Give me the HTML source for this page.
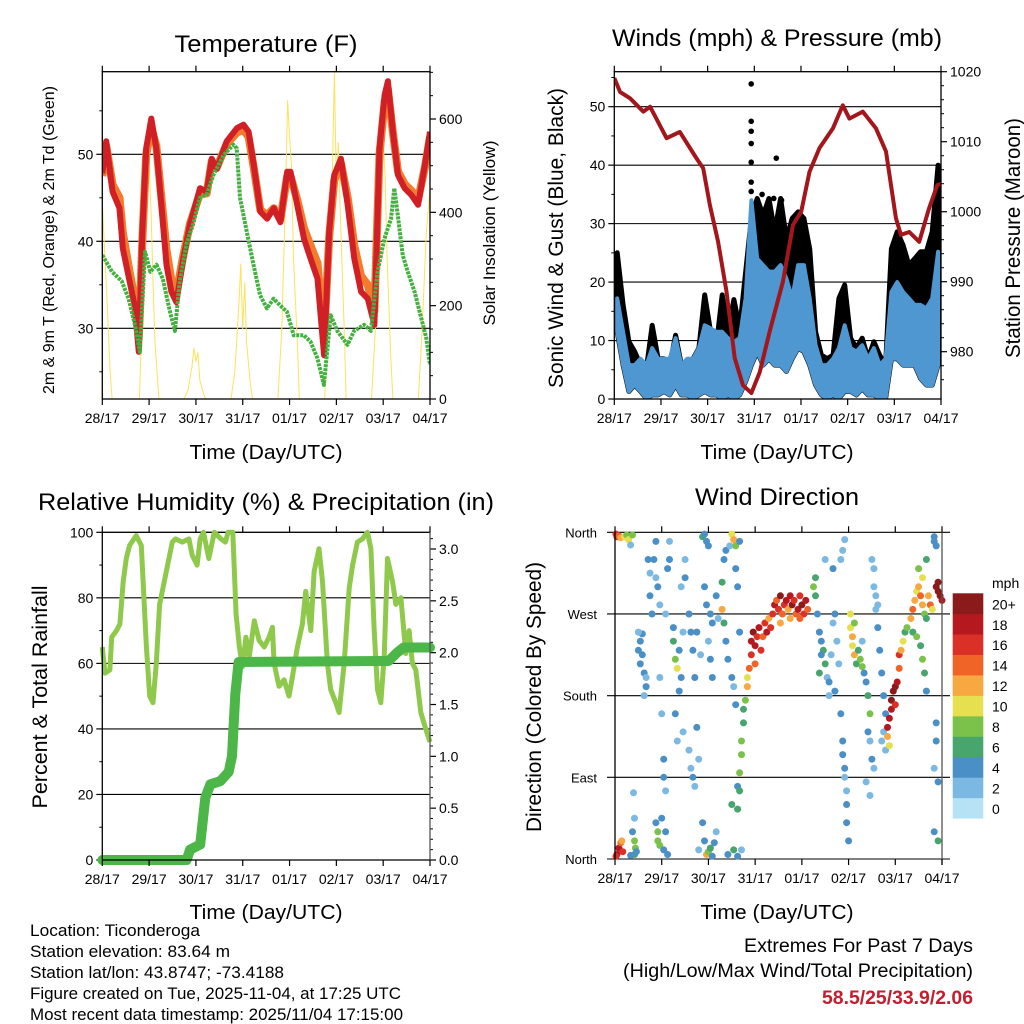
<!DOCTYPE html>
<html><head><meta charset="utf-8"><style>
html,body{margin:0;padding:0;background:#fff;}
svg{display:block;font-family:"Liberation Sans",sans-serif;}
</style></head><body>
<svg id="fig" width="1024" height="1024" viewBox="0 0 1024 1024">
<rect width="1024" height="1024" fill="#fff"/>
<g id="p1"></g>
<g id="p2"></g>
<g id="p3"></g>
<g id="p4"></g>
<g font-size="24" text-anchor="middle">
<text x="266" y="52" textLength="183" lengthAdjust="spacingAndGlyphs">Temperature (F)</text>
<text x="777" y="46" textLength="330" lengthAdjust="spacingAndGlyphs">Winds (mph) &amp; Pressure (mb)</text>
<text x="266" y="510" textLength="456" lengthAdjust="spacingAndGlyphs">Relative Humidity (%) &amp; Precipitation (in)</text>
<text x="777" y="505" textLength="164" lengthAdjust="spacingAndGlyphs">Wind Direction</text>
</g>
<g font-size="20" text-anchor="middle">
<text x="266" y="459" textLength="153" lengthAdjust="spacingAndGlyphs">Time (Day/UTC)</text>
<text x="777" y="459" textLength="153" lengthAdjust="spacingAndGlyphs">Time (Day/UTC)</text>
<text x="266" y="919" textLength="153" lengthAdjust="spacingAndGlyphs">Time (Day/UTC)</text>
<text x="777" y="919" textLength="153" lengthAdjust="spacingAndGlyphs">Time (Day/UTC)</text>
</g>
<text transform="translate(54,240) rotate(-90)" font-size="16" text-anchor="middle" textLength="308" lengthAdjust="spacingAndGlyphs">2m &amp; 9m T (Red, Orange) &amp; 2m Td (Green)</text>
<text transform="translate(495,233) rotate(-90)" font-size="17" text-anchor="middle" textLength="185" lengthAdjust="spacingAndGlyphs">Solar Insolation (Yellow)</text>
<text transform="translate(563,238) rotate(-90)" font-size="21" text-anchor="middle" textLength="300" lengthAdjust="spacingAndGlyphs">Sonic Wind &amp; Gust (Blue, Black)</text>
<text transform="translate(1020,238) rotate(-90)" font-size="21" text-anchor="middle" textLength="240" lengthAdjust="spacingAndGlyphs">Station Pressure (Maroon)</text>
<text transform="translate(47,697) rotate(-90)" font-size="21" text-anchor="middle" textLength="223" lengthAdjust="spacingAndGlyphs">Percent &amp; Total Rainfall</text>
<text transform="translate(541,697) rotate(-90)" font-size="21" text-anchor="middle" textLength="270" lengthAdjust="spacingAndGlyphs">Direction (Colored By Speed)</text>
<g font-size="17">
<text x="30" y="936" textLength="170" lengthAdjust="spacingAndGlyphs">Location: Ticonderoga</text>
<text x="30" y="957" textLength="200" lengthAdjust="spacingAndGlyphs">Station elevation: 83.64 m</text>
<text x="30" y="978" textLength="254" lengthAdjust="spacingAndGlyphs">Station lat/lon: 43.8747; -73.4188</text>
<text x="30" y="999" textLength="371" lengthAdjust="spacingAndGlyphs">Figure created on Tue, 2025-11-04, at 17:25 UTC</text>
<text x="30" y="1020" textLength="373" lengthAdjust="spacingAndGlyphs">Most recent data timestamp: 2025/11/04 17:15:00</text>
</g>
<g font-size="19" text-anchor="end">
<text x="973" y="952" textLength="229" lengthAdjust="spacingAndGlyphs">Extremes For Past 7 Days</text>
<text x="973" y="977" textLength="350" lengthAdjust="spacingAndGlyphs">(High/Low/Max Wind/Total Precipitation)</text>
<text x="973" y="1004" textLength="151" lengthAdjust="spacingAndGlyphs" fill="#c41e2e" font-weight="bold">58.5/25/33.9/2.06</text>
</g>
</svg>
<script>
const dayLabels=["28/17","29/17","30/17","31/17","01/17","02/17","03/17","04/17"];
const tempT=[0,2,5.3,8.8,10.5,14,16.5,18.7,20.5,22.5,25.1,27.7,30.3,32.9,35.4,38,41.5,44.9,50.1,53.5,56.1,58.7,63.8,69,72.4,75,77.6,81,84.5,87.9,91.3,94.8,96.5,99.9,103.4,106.8,110.3,113.7,116.3,118.9,122.3,125.8,129.2,132.7,136.1,139.5,142.1,144.7,146.4,149,151.6,155,158.5,161.9,165.4,168];
const temp2m=[47.8,51.5,45.7,43.8,39.2,35.4,32.7,27.3,41,50.7,54.1,50.7,44.2,37.3,34.2,33,38,41.9,46.1,45.7,49.5,48.3,51.5,53,53.4,52.6,48.8,43.4,42.6,43.8,42.2,48,48,44.2,40.3,38,35.7,26.9,41.1,47.6,49.5,44.2,38,34.2,33.4,30.4,50.7,56.8,58.4,52.6,47.6,46.1,45.3,44.2,48.8,52.6];
const temp9m=[47.5,51,46.5,45,41,36.5,33.5,29,40,50,53,51,45,39,35.5,34,38.3,42,45.5,45.5,49.2,48.5,51.2,52.5,52.8,52,48.5,43.6,43,43.8,42.5,47.5,47.5,44.8,41.5,39.5,37.5,29,40.5,47,49,45,39.5,36,35,32,50,56,57.5,52.5,48,46.6,45.8,44.8,48.5,52];
const tdT=[0,5,10,13.5,16.7,19.3,21.9,24.6,27.8,31,34.7,37.2,39.7,43.1,46.6,50,53.5,56.9,62.1,67.2,68.9,70.6,74.1,77.5,80.9,84.4,87.8,91.3,94.7,98.1,103.3,106.7,110.2,113.6,117.1,120.5,125.7,129.1,134.2,137.7,141.1,144.6,148,149.7,151.5,154,156.6,160.1,163.5,166.1,168];
const td2m=[38.4,36.5,35.4,33.4,30.4,27.3,38.8,36.5,37.3,35.7,31.9,29.7,35.4,39.7,42,45,45.4,47.6,49.9,51.1,50.7,45,41.1,37.3,33.8,32.3,33.4,32.6,31.9,29.2,29.2,28.5,26.6,23.5,31.5,29.7,28.1,29.7,30.4,29.7,36.5,40.3,42.6,46.1,43,38.4,36.5,34.2,31.2,28.9,25.8];
const solarT=[0,2,4,5,19,20,21,22,23,24,25,26,27,29,42,44,46,47,48,49,50,52,53,66,68,70,71,72,73,74,76,77,90,92,94,95,96,97,98,100,101,114,116,118,119,120,121,122,124,125,138,140,142,143,144,145,146,148,149,162,164,166,168];
const solar=[420,250,60,0,0,120,300,480,560,500,400,250,120,0,0,20,70,110,80,100,40,10,0,0,60,200,290,150,250,120,30,0,0,150,450,640,560,500,300,120,0,0,200,500,700,450,550,400,150,0,0,150,450,610,550,480,300,80,0,0,150,350,450];
const presT=[0,3,8.1,14.9,18.4,26.9,33.7,42.3,45.7,49.1,53.4,57.7,61.9,66.2,70.5,74.8,79.9,86.7,91.9,96.1,100.4,105.5,112.4,117.5,120.9,127.8,134.6,139.7,144.8,147.4,151.7,156.8,161.9,166.1,168];
const pressure=[1019.1,1017.1,1016.2,1014.3,1015,1010.5,1011.4,1007.6,1006.2,1001,995.7,988.6,979.1,975.2,974.1,977.1,982.9,990,998.1,1000,1005.7,1009.1,1011.9,1015.2,1013.3,1014.3,1011.9,1008.6,999.1,996.7,997.1,995.7,1000.5,1003.8,1004];
const windHi=[17.2,11.5,5.8,5.8,6.9,5.8,8.7,6.9,6.9,6.9,10.4,5.8,6.9,6.9,8.7,12.6,12.1,11.5,11.5,10.4,9.8,10.4,17.2,34,24,22.9,21.8,21.8,22.9,20.6,17.2,22.9,22.9,17.2,9.2,5.8,5.8,6.9,8.7,12.6,8.7,8.1,9.2,6.9,8.7,5.8,6.9,18.3,20,18.3,17.2,16.1,16.1,15.5,17.2,25.2];
const windLo=[11.5,5.8,1.3,2.4,1.3,0.1,0.7,0.7,1.3,0.7,2.4,0.7,0.7,0.1,0.7,1.3,0.7,0.7,0.1,0.7,0.1,0.7,3,5.8,8.1,5.8,6.9,5.8,5.8,4.7,6.9,8.7,8.1,5.8,2.4,0.7,0.1,0.7,0.1,1.3,1.3,0.7,1.8,0.7,0.7,0.1,0.1,6.9,6.9,5.8,5.8,5.8,3.5,2.4,2.4,5.8];
const gust=[25,16.1,9.8,8.1,5.8,5.2,12.6,6.9,6.9,5.8,10.9,5.8,5.8,6.9,8.7,17.8,11.5,9.2,17.8,11.5,17,12.1,21.6,31,34.3,31.4,34.3,28.6,34.3,27.4,30.9,32,30.9,25.7,11.5,7.5,6.9,7.5,17.2,19.5,10.4,8.7,10.4,6.9,9.8,7.5,5.8,25.7,28.6,26.3,22.9,24,25.2,25.2,28.6,40];
const gustOutT=[70.4,70.4,70.4,70.4,70.4,70.4,70.4,83.3,82,76,79,86,167,167];
const gustOut=[53.9,47.5,45.8,43.7,40.5,37.1,35.5,41.2,34.3,35,33,34,39,38];
const rhT=[0,1.4,3.9,4.8,7.3,9,10.7,12.3,14,17.4,20,20.9,22.6,24.3,26,27.7,29.4,31.8,33.5,35.9,37.6,41,44.4,46.1,48.6,50.2,51.9,54.6,57.4,60.8,63.1,64.5,66.9,68.6,70.3,71.9,73.6,75.3,77.9,80.4,83,85.5,87.2,88.1,90.6,93.2,95.7,97.5,100,102.6,104.3,106.9,108.6,111.1,112.9,115.4,117.1,119.7,121.4,124,126.6,128.3,130.8,133.4,135.9,137.7,139.4,141.1,142.8,144.5,146.2,148.8,150.5,153.1,155.6,157.3,159,160.7,163.3,165.8,168];
const rh=[65,57,58,68,70,72,85,92,96,99,96,85,65,50,48,60,78,85,90,97,98,97,98,93,90,98,100,92,100,98,97,100,100,75,65,59,68,62,73,67,65,68,71,60,53,55,50,56,65,72,82,70,88,95,85,60,52,48,45,60,83,90,97,98,100,95,70,52,48,62,92,85,78,80,63,70,60,58,45,40,36];
const precT=[0,43.2,45,50.2,52.8,55.4,60.5,64.8,66.5,68.2,69.9,146.8,151.1,154.5,168];
const precip=[0,0,0.1,0.15,0.6,0.73,0.76,0.85,1.0,1.6,1.91,1.92,2.0,2.05,2.05];
const dirPts=[[0.5,358,16],[1,355,15],[2,356,14],[3,354,12],[1,5,17],[2,12,18],[3,18,14],[4,8,16],[3.5,20,11],[0.5,3,16],
[5,355,9],[6,357,8],[7,352,10],[8,346,2],[9,357,8],[10,5,6],[10.5,12,8],[10,20,7],[9,30,4],[10,45,2],[9.5,73,2],[11,8,4],[8,4,4],
[12,230,4],[13,240,4],[14,225,3],[13,215,4],[15,205,4],[16,200,2],[14,248,3],[17,330,3],[18,315,2],[18,290,3],[19,270,4],[16,190,4],[15,180,2],[12,250,2],
[20,330,4],[21,350,4],[21,310,2],[22,300,3],[23,280,2],[23,200,2],[24,160,2],[25,110,4],[25,90,4],[26,75,2],[21,40,4],[22,30,7],[22,20,8],[23,15,7],[25,10,3],[26,30,4],[27,5,4],[24,45,4],[28,350,2],[28,330,3],[27,320,4],[26,270,2],
[30,240,6],[31,220,8],[32,210,10],[33,230,4],[34,200,4],[30,255,3],[35,250,2],[33,185,4],[31,160,4],[32,130,2],[35,140,2],[36,330,2],[36,310,3],[34,300,2],
[38,270,4],[39,250,3],[40,230,4],[41,200,4],[38,120,2],[39,100,2],[40,90,3],[41,80,2],[42,145,3],[43,110,2],[42,250,4],[44,225,2],[43,10,2],
[45,355,6],[46,358,4],[47,350,4],[48,345,3],[46,300,4],[47,280,4],[49,270,3],[50,260,4],[48,240,2],[49,220,4],[50,200,3],[52,290,4],[53,265,2],[46,20,4],[47,5,12],[48,8,8],[49,12,6],[50,3,4],[51,18,4],[52,30,2],[45,40,4],
[55,305,6],[55,275,12],[56,260,6],[57,240,4],[58,220,4],[56,330,4],[57,340,4],[59,345,2],[60,358,10],[61,352,12],[62,345,8],[60,200,4],[61,190,2],[63,300,4],[64,250,4],[62,170,4],[63,80,4],[60,60,6],[58,5,4],[61,10,6],[63,3,4],[65,10,2],[64,350,4],[62,320,4],
[63,55,6],[64,75,6],[64,95,8],[65,115,8],[65,130,8],[66,150,6],[66,165,6],[67,175,8],[68,190,12],[68,200,10],[69,210,14],[70,225,16],[70,240,18],[71,250,20],[72,235,18],[73,245,16],[74,255,18],[75,230,16],[76,245,14],[77,260,16],[78,250,18],[79,265,12],[80,255,16],[72,215,14],
[81,270,16],[82,280,18],[83,285,14],[84,275,16],[85,290,20],[86,270,14],[87,280,16],[88,285,18],[89,275,12],[90,290,18],[91,280,20],[92,285,16],[93,270,14],[94,275,18],[95,290,16],[96,280,20],[97,270,16],[98,285,18],[99,275,14],[85,260,12],[90,265,12],[95,265,14],
[102,300,8],[103,310,6],[103,290,6],[104,270,4],[105,250,4],[106,240,4],[107,230,6],[108,215,6],[109,200,2],[110,195,4],[111,225,2],[112,260,2],[113,270,4],[114,240,2],[115,215,2],[105,205,6],[106,225,4],[110,180,2],[113,185,4],[108,330,2],[112,320,3],
[116,160,4],[117,130,4],[117,115,4],[118,100,4],[118,90,2],[119,60,4],[119,40,4],[120,20,4],[117,340,2],[118,352,2],[116,330,2],[119,75,2],
[121,270,10],[121,255,10],[122,245,12],[122,235,10],[123,225,12],[123,260,8],[124,215,6],
[125,230,6],[126,220,8],[127,212,8],[128,205,4],[129,195,4],[130,180,6],[131,160,8],[127,240,2],[130,140,4],[131,130,2],[132,110,4],[133,100,2],[129,85,2],[131,70,2],
[132,330,2],[133,320,2],[133,300,2],[134,290,2],[135,280,2],[134,275,2],[135,255,4],[136,230,4],[137,205,4],[138,180,4],[139,160,4],[138,140,2],[137,130,2],[139,120,2],
[140,145,18],[140,135,12],[141,155,18],[142,165,18],[142,175,20],[143,185,20],[144,190,20],[145,195,18],[146,210,14],[146,225,16],[147,230,12],[148,240,10],[149,250,6],[150,255,8],[144,170,16],[141,125,10],
[152,265,12],[153,275,14],[154,285,12],[155,295,10],[156,300,12],[157,290,14],[158,280,12],[159,270,8],[160,265,6],[153,250,6],[155,245,8],[157,235,6],[158,220,8],[159,205,6],[156,320,8],[158,310,10],[160,330,6],[161,290,12],[162,280,14],[163,275,10],[160,185,4],
[165,300,20],[166,295,20],[167,290,20],[168,285,18],[166,305,20],[164,350,4],[164,355,4],[165,345,4],[165,150,4],[165,130,4],[164,100,2],[166,85,4],[166,20,6],[164,30,4]];
const speedColors=["#b7e2f6","#7cb9e2","#4a8fc6","#48a56e","#7ac24a","#e6e050","#f8a840","#f06428","#da3028","#b5191f","#8b1a1a"];
const speedLabels=["0","2","4","6","8","10","12","14","16","18","20+"];

const NS="http://www.w3.org/2000/svg";
function mk(parent,tag,attrs){const e=document.createElementNS(NS,tag);for(const k in attrs)e.setAttribute(k,attrs[k]);parent.appendChild(e);return e;}
function linScale(d0,d1,r0,r1){return v=>r0+(v-d0)*(r1-r0)/(d1-d0);}
function pathOf(ts,vs,sx,sy){return ts.map((t,i)=>(i?'L':'M')+sx(t).toFixed(1)+','+sy(vs[i]).toFixed(1)).join('');}

function frame(g,L,R,T,B,sx,name){
  const tk=mk(g,'g',{});
  
  
  for(let d=0;d<8;d++){
    const x=sx(d*24);
    mk(tk,'line',{x1:x,x2:x,y1:B,y2:B+6,stroke:'#000','stroke-width':1.2});
    mk(tk,'line',{x1:x,x2:x,y1:T,y2:T-6,stroke:'#000','stroke-width':1.2});
    const t=mk(tk,'text',{x:x,y:B+24,'font-size':14,'text-anchor':'middle'});
    t.textContent=dayLabels[d];
    
    
  }
}
function box(g,L,R,T,B){mk(g,'rect',{x:L,y:T,width:R-L,height:B-T,fill:'none',stroke:'#000','stroke-width':1.3});}
function yAxis(g,vals,labels,sy,x,side,grid,L,R,minor,name){
  const a=mk(g,'g',{});
  
  
  vals.forEach((v,i)=>{
    const y=sy(v);
    if(grid) mk(a,'line',{x1:L,x2:grid,y1:y,y2:y,stroke:'#000','stroke-width':1.1});
    const dx=side<0?-6:6;
    mk(a,'line',{x1:x,x2:x+dx,y1:y,y2:y,stroke:'#000','stroke-width':1.2});
    const t=mk(a,'text',{x:x+(side<0?-9:9),y:y+5,'font-size':14,'text-anchor':side<0?'end':'start'});
    t.textContent=labels[i];
    
    
  });
  (minor||[]).forEach(v=>{const y=sy(v);mk(a,'line',{x1:x,x2:x+(side<0?-3:3),y1:y,y2:y,stroke:'#000','stroke-width':1});});
}

// Panel 1
(function(){
  const g=document.getElementById('p1');const L=102.3,R=430,T=71.7,B=399;
  const sx=linScale(0,168,L,R), sy=linScale(30,40,328.3,241.3), sr=linScale(0,600,399,119);
  const clip=mk(g,'clipPath',{id:'c1'});mk(clip,'rect',{x:L,y:T,width:R-L,height:B-T});
  yAxis(g,[30,40,50],["30","40","50"],sy,L,-1,R,L,R,[25,35,45,55],'p1-left-axis');
  yAxis(g,[0,200,400,600],["0","200","400","600"],sr,R,1,0,L,R,[50,100,150,250,300,350,450,500,550,650,700],'p1-right-axis');
  const pg=mk(g,'g',{'clip-path':'url(#c1)'});
  const s=mk(pg,'path',{d:pathOf(solarT,solar,sx,sr),fill:'none',stroke:'#fde25a','stroke-width':1});
  
  const o=mk(pg,'path',{d:pathOf(tempT,temp9m,sx,sy),fill:'none',stroke:'#f27b2d','stroke-width':8,'stroke-linejoin':'round'});
  
  const r=mk(pg,'path',{d:pathOf(tempT,temp2m,sx,sy),fill:'none',stroke:'#d11f26','stroke-width':6,'stroke-linejoin':'round'});
  
  const gr=mk(pg,'path',{d:pathOf(tdT,td2m,sx,sy),fill:'none',stroke:'#43b03f','stroke-width':4,'stroke-dasharray':'3 1','stroke-linejoin':'round'});
  
  box(g,L,R,T,B);frame(g,L,R,T,B,sx,'p1');
})();

// Panel 2
(function(){
  const g=document.getElementById('p2');const L=614.3,R=941,T=71.7,B=399;
  const sx=linScale(0,168,L,R), sy=linScale(0,50,399,106.7), sp=linScale(1020,980,71.7,351.7);
  const clip=mk(g,'clipPath',{id:'c2'});mk(clip,'rect',{x:L,y:T,width:R-L,height:B-T});
  yAxis(g,[0,10,20,30,40,50],["0","10","20","30","40","50"],sy,L,-1,R,L,R,[5,15,25,35,45,55],'p2-left-axis');
  yAxis(g,[980,990,1000,1010,1020],["980","990","1000","1010","1020"],sp,R,1,0,L,R,[976,978,982,984,986,988,992,994,996,998,1002,1004,1006,1008,1012,1014,1016,1018],'p2-right-axis');
  const pg=mk(g,'g',{'clip-path':'url(#c2)'});
  const tt=windHi.map((_,i)=>i*3+1.5);
  const band=(lo,hi)=>tt.map((t,i)=>(i?'L':'M')+sx(t).toFixed(1)+','+sy(hi[i]).toFixed(1)).join('')+tt.slice().reverse().map((t,j)=>{const i=tt.length-1-j;return 'L'+sx(t).toFixed(1)+','+sy(lo[i]).toFixed(1);}).join('')+'Z';
  const gb=mk(pg,'path',{d:band(windLo,gust),fill:'#000',stroke:'#000','stroke-width':5,'stroke-linejoin':'round'});
  
  gustOutT.forEach((t,i)=>{const c=mk(pg,'circle',{cx:sx(t),cy:sy(gustOut[i]),r:2.8,fill:'#000'});
    });
  const wb=mk(pg,'path',{d:band(windLo,windHi),fill:'#4f97d1',stroke:'#4f97d1','stroke-width':4,'stroke-linejoin':'round'});
  
  const p=mk(pg,'path',{d:pathOf(presT,pressure,sx,sp),fill:'none',stroke:'#a3161b','stroke-width':4,'stroke-linejoin':'round'});
  
  box(g,L,R,T,B);frame(g,L,R,T,B,sx,'p2');
})();

// Panel 3
(function(){
  const g=document.getElementById('p3');const L=102.3,R=430,T=532.3,B=860;
  const sx=linScale(0,168,L,R), sy=linScale(0,100,B,T), sp=linScale(0,3,B,549);
  const clip=mk(g,'clipPath',{id:'c3'});mk(clip,'rect',{x:L-6,y:T-6,width:R-L+12,height:B-T+12});
  yAxis(g,[0,20,40,60,80,100],["0","20","40","60","80","100"],sy,L,-1,R,L,R,[10,30,50,70,90],'p3-left-axis');
  mk(g,'line',{x1:L,x2:R,y1:T,y2:T,stroke:'#000','stroke-width':1.1});
  const pm=[];for(let k=1;k<32;k++){if(k%5)pm.push(k/10);}
  yAxis(g,[0,0.5,1,1.5,2,2.5,3],["0.0","0.5","1.0","1.5","2.0","2.5","3.0"],sp,R,1,0,L,R,pm,'p3-right-axis');
  const pg=mk(g,'g',{'clip-path':'url(#c3)'});
  const h=mk(pg,'path',{d:pathOf(rhT,rh,sx,sy),fill:'none',stroke:'#8fc94c','stroke-width':5,'stroke-linejoin':'round'});
  
  const pr=mk(pg,'path',{d:pathOf(precT,precip,sx,sp),fill:'none',stroke:'#4cb648','stroke-width':10,'stroke-linejoin':'round','stroke-linecap':'round'});
  
  mk(g,'line',{x1:L,x2:L,y1:T,y2:B,stroke:'#000','stroke-width':1.3});
  mk(g,'line',{x1:R,x2:R,y1:T,y2:B,stroke:'#555','stroke-width':1.3});
  mk(g,'line',{x1:L,x2:R,y1:B,y2:B,stroke:'#000','stroke-width':1.3});
  frame(g,L,R,T,B,sx,'p3');
})();

// Panel 4
(function(){
  const g=document.getElementById('p4');const L=615,R=942,T=532.3,B=859;
  const sx=linScale(0,168,L,R), sy=linScale(0,360,B,T);
  const a=mk(g,'g',{});
  
  
  const dirNames=["North","East","South","West","North"];
  [0,90,180,270,360].forEach((d,i)=>{const y=sy(d);
    mk(a,'line',{x1:L-8,x2:R+8,y1:y,y2:y,stroke:'#000','stroke-width':1.1});
    const t=mk(a,'text',{x:L-18,y:y+5,'font-size':13,'text-anchor':'end'});t.textContent=dirNames[i];
    });
  const pg=mk(g,'g',{});
  dirPts.forEach(p=>{const ci=Math.min(10,Math.round(p[2]/2));
    const c=mk(pg,'circle',{cx:sx(p[0]).toFixed(1),cy:sy(p[1]).toFixed(1),r:3.5,fill:speedColors[ci]});
    });
  mk(g,'line',{x1:L,x2:L,y1:T,y2:B,stroke:'#000','stroke-width':1.3});
  mk(g,'line',{x1:R,x2:R,y1:T,y2:B+6,stroke:'#555','stroke-width':1.3});
  frame(g,L,R,T,B,sx,'p4');
  const cb=mk(g,'g',{});
  
  
  const mt=mk(cb,'text',{x:992,y:588,'font-size':14});mt.textContent='mph';
  for(let i=0;i<11;i++){const y=593.3+(10-i)*20.45;
    const r=mk(cb,'rect',{x:952.7,y:y,width:30.6,height:20.8,fill:speedColors[i]});
    
    const t=mk(cb,'text',{x:992,y:y+16,'font-size':14});t.textContent=speedLabels[i];
    }
})();
</script>
</body></html>
